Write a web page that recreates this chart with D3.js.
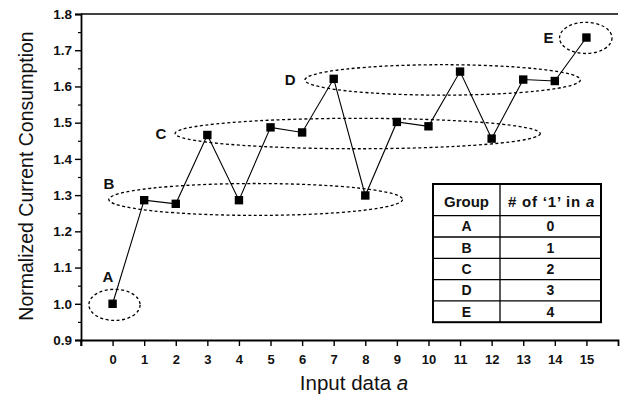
<!DOCTYPE html>
<html>
<head>
<meta charset="utf-8">
<script src="https://cdn.jsdelivr.net/npm/d3@7"></script>
<style>
  html, body { margin: 0; padding: 0; background: #fff; }
  svg { display: block; font-family: "Liberation Sans", Arial, sans-serif; }
</style>
</head>
<body>
<svg id="chart" width="620" height="396"></svg>
<script>
// Input data a (0..15) and normalized current consumption
const inputs = [0, 1, 2, 3, 4, 5, 6, 7, 8, 9, 10, 11, 12, 13, 14, 15];
const consumption = [1.000, 1.286, 1.276, 1.466, 1.286, 1.487, 1.473, 1.621, 1.299, 1.502,
                     1.490, 1.641, 1.456, 1.619, 1.615, 1.735];

// Axis ticks
const xTicks = [0, 1, 2, 3, 4, 5, 6, 7, 8, 9, 10, 11, 12, 13, 14, 15];
const yTicks = [0.9, 1.0, 1.1, 1.2, 1.3, 1.4, 1.5, 1.6, 1.7, 1.8];

// Groups by number of '1' bits, with dashed ellipse extents in data units
const groupNames = ["A", "B", "C", "D", "E"];
const groupOnes = [0, 1, 2, 3, 4];
const groupCx = [0.06, 4.53, 7.76, 10.45, 14.98];
const groupCy = [0.997, 1.288, 1.470, 1.618, 1.734];
const groupRx = [0.81, 4.65, 5.78, 4.36, 0.83];
const groupRy = [0.043, 0.044, 0.042, 0.042, 0.043];
const labelX = [-0.15, -0.12, 1.53, 5.62, 13.8];
const labelY = [1.075, 1.333, 1.47, 1.618, 1.736];

const svg = d3.select("#chart");
const margin = { left: 81, right: 2, top: 14, bottom: 56 };
const W = 620, H = 396;

const x = d3.scaleLinear().domain([-1, 16]).range([margin.left, W - margin.right]);
const y = d3.scaleLinear().domain([0.9, 1.8]).range([H - margin.bottom, margin.top]);

// Top frame line
svg.append("line")
  .attr("x1", x(-1)).attr("x2", x(16))
  .attr("y1", y(1.8)).attr("y2", y(1.8))
  .attr("stroke", "#000").attr("stroke-width", 1.6);

// X axis
const xAxis = svg.append("g")
  .attr("transform", `translate(0,${y(0.9)})`)
  .call(d3.axisBottom(x).tickValues(xTicks).tickSize(6).tickPadding(9).tickFormat(d3.format("d")));
xAxis.select(".domain").attr("stroke-width", 1.8);
xAxis.selectAll(".tick line").attr("stroke-width", 1.4);
xAxis.selectAll("text").attr("font-size", 13).attr("font-weight", "bold").attr("fill", "#111");
xAxis.append("line").attr("x1", x(-1)).attr("x2", x(-1)).attr("y1", 0).attr("y2", 6)
  .attr("stroke", "#000").attr("stroke-width", 1.4);

// Y axis with minor ticks
const yMinor = svg.append("g")
  .attr("transform", `translate(${x(-1)},0)`)
  .call(d3.axisLeft(y).tickValues(d3.range(0.95, 1.8, 0.1)).tickSize(3).tickFormat(""));
yMinor.select(".domain").remove();
yMinor.selectAll(".tick line").attr("stroke-width", 1.2);

const yAxis = svg.append("g")
  .attr("transform", `translate(${x(-1)},0)`)
  .call(d3.axisLeft(y).tickValues(yTicks).tickSize(6).tickPadding(3).tickFormat(d3.format(".1f")));
yAxis.select(".domain").attr("stroke-width", 1.8);
yAxis.selectAll(".tick line").attr("stroke-width", 1.4);
yAxis.selectAll("text").attr("font-size", 13.5).attr("font-weight", "bold").attr("fill", "#111");

// Axis titles
svg.append("text")
  .attr("transform", `translate(33,${(y(0.9) + y(1.8)) / 2 - 1}) rotate(-90)`)
  .attr("text-anchor", "middle")
  .attr("font-size", 19.5).attr("fill", "#111")
  .text("Normalized Current Consumption");

const xTitle = svg.append("text")
  .attr("x", 354).attr("y", 390)
  .attr("text-anchor", "middle")
  .attr("font-size", 20.5).attr("fill", "#111");
xTitle.append("tspan").text("Input data ");
xTitle.append("tspan").attr("font-style", "italic").text("a");

// Dashed group ellipses
svg.append("g").selectAll("ellipse")
  .data(groupNames)
  .join("ellipse")
  .attr("cx", (d, i) => x(groupCx[i]))
  .attr("cy", (d, i) => y(groupCy[i]))
  .attr("rx", (d, i) => x(groupRx[i]) - x(0))
  .attr("ry", (d, i) => y(0) - y(groupRy[i]))
  .attr("fill", "none").attr("stroke", "#000")
  .attr("stroke-width", 1.3).attr("stroke-dasharray", "3,2.5");

// Group labels
svg.append("g").selectAll("text")
  .data(groupNames)
  .join("text")
  .attr("x", (d, i) => x(labelX[i]))
  .attr("y", (d, i) => y(labelY[i]))
  .attr("dy", "0.36em")
  .attr("text-anchor", "middle")
  .attr("font-size", 15).attr("font-weight", "bold").attr("fill", "#111")
  .text(d => d);

// Data line and square markers
const pts = inputs.map((v, i) => [v, consumption[i]]);
svg.append("path")
  .datum(pts)
  .attr("fill", "none").attr("stroke", "#000").attr("stroke-width", 1.1)
  .attr("d", d3.line().x(d => x(d[0])).y(d => y(d[1])));

svg.append("g").selectAll("rect")
  .data(pts)
  .join("rect")
  .attr("x", d => x(d[0]) - 4.2).attr("y", d => y(d[1]) - 4.2)
  .attr("width", 8.4).attr("height", 8.4)
  .attr("fill", "#000");

// Group table
const tbl = { left: 433, right: 601, top: 184, header: 31.7, row: 21.3, divider: 500 };
const tg = svg.append("g");
const tBottom = tbl.top + tbl.header + tbl.row * groupNames.length;
tg.append("rect")
  .attr("x", tbl.left).attr("y", tbl.top)
  .attr("width", tbl.right - tbl.left).attr("height", tBottom - tbl.top)
  .attr("fill", "#fff").attr("stroke", "#000").attr("stroke-width", 2);
tg.append("line")
  .attr("x1", tbl.divider).attr("x2", tbl.divider)
  .attr("y1", tbl.top).attr("y2", tBottom)
  .attr("stroke", "#000").attr("stroke-width", 1.3);
groupNames.forEach((g, i) => {
  const yTop = tbl.top + tbl.header + tbl.row * i;
  tg.append("line")
    .attr("x1", tbl.left).attr("x2", tbl.right)
    .attr("y1", yTop).attr("y2", yTop)
    .attr("stroke", "#000").attr("stroke-width", 1.3);
  tg.append("text")
    .attr("x", (tbl.left + tbl.divider) / 2).attr("y", yTop + tbl.row / 2)
    .attr("dy", "0.36em").attr("text-anchor", "middle")
    .attr("font-size", 14).attr("font-weight", "bold").attr("fill", "#111")
    .text(g);
  tg.append("text")
    .attr("x", (tbl.divider + tbl.right) / 2).attr("y", yTop + tbl.row / 2)
    .attr("dy", "0.36em").attr("text-anchor", "middle")
    .attr("font-size", 14).attr("font-weight", "bold").attr("fill", "#111")
    .text(groupOnes[i]);
});
const hy = tbl.top + tbl.header / 2 + 2;
tg.append("text")
  .attr("x", (tbl.left + tbl.divider) / 2).attr("y", hy)
  .attr("dy", "0.36em").attr("text-anchor", "middle")
  .attr("font-size", 15).attr("font-weight", "bold").attr("fill", "#111")
  .text("Group");
const h2 = tg.append("text")
  .attr("x", (tbl.divider + tbl.right) / 2 + 1).attr("y", hy)
  .attr("dy", "0.36em").attr("text-anchor", "middle")
  .attr("font-size", 15).attr("font-weight", "bold").attr("fill", "#111")
  .attr("letter-spacing", 0.8);
h2.append("tspan").text("# of \u20181\u2019 in ");
h2.append("tspan").attr("font-style", "italic").text("a");
</script>
</body>
</html>
